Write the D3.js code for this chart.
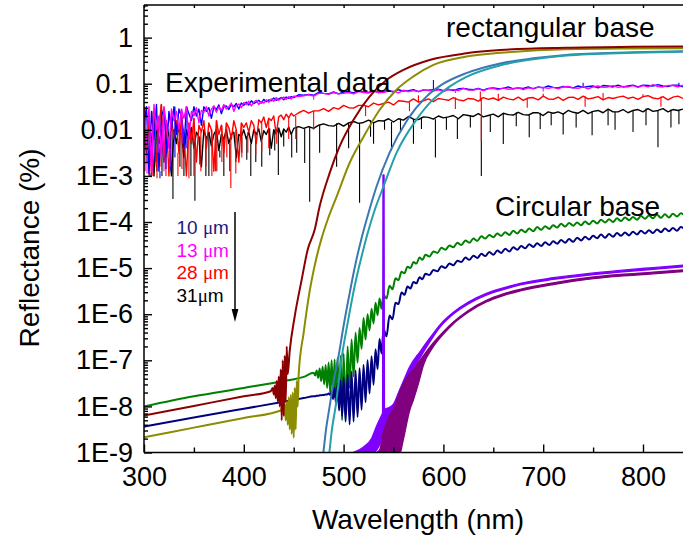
<!DOCTYPE html>
<html><head><meta charset="utf-8">
<script src="https://cdn.jsdelivr.net/npm/d3@7"></script>
<style>
html,body{margin:0;padding:0;background:#fff;}
svg{display:block;font-family:"Liberation Sans",Arial,Helvetica,sans-serif;}
</style></head><body>
<svg id="c" width="683" height="538"></svg>
<script>
// ---------------- DATA (reflectance values stored as log10 exponents) ----------------
const xTickValues = [300, 400, 500, 600, 700, 800];
const xTickLabels = ["300", "400", "500", "600", "700", "800"];
const yTickValues = [1e-9, 1e-8, 1e-7, 1e-6, 1e-5, 1e-4, 1e-3, 1e-2, 1e-1, 1];
const yTickLabels = ["1E-9", "1E-8", "1E-7", "1E-6", "1E-5", "1E-4", "1E-3", "0.01", "0.1", "1"];
const legendLabels = ["10 ", "13 ", "28 ", "31"];

// experimental wavelength grid (nm)
const expWl = [300,302.5,305,307.5,310,312.5,315,317.5,320,322.5,325,327.5,330,
332.5,335,337.5,340,342.5,345,347.5,350,352.5,355,357.5,360,
362.5,365,367.5,370,372.5,375,377.5,380,382.5,385,387.5,390,392.5,395,397.5,400,
402.5,405,407.5,410,412.5,415,417.5,420,422.5,425,427.5,430,432.5,435,437.5,440,442.5,445,447.5,450,
455,460,465,470,475,480,485,490,495,500,505,510,515,520,525,530,535,540,545,550,555,560,565,570,575,580,585,590,595,600,
605,610,615,620,625,630,635,640,645,650,655,660,665,670,675,680,685,690,695,700,705,710,715,720,725,730,735,740,745,750,
755,760,765,770,775,780,785,790,795,800,805,810,815,820,825,830,835,840];

const exp10umLog = [-1.9,-1.5,-2.95,-1.6,-2.2,-1.45,-2.9,-1.7,-1.55,-2.5,-1.6,-2.0,-1.5,
-2.1,-1.55,-1.7,-2.4,-1.5,-1.65,-1.8,-1.5,-1.7,-1.55,-1.9,-1.5,
-1.6,-1.52,-1.75,-1.5,-1.56,-1.46,-1.65,-1.5,-1.48,-1.56,-1.45,-1.5,-1.43,-1.55,-1.42,-1.47,
-1.4,-1.46,-1.37,-1.43,-1.4,-1.36,-1.42,-1.34,-1.39,-1.35,-1.37,-1.31,-1.36,-1.33,-1.3,-1.35,-1.29,-1.32,-1.28,-1.3,
-1.24,-1.25,-1.23,-1.25,-1.19,-1.21,-1.22,-1.18,-1.22,-1.18,-1.17,-1.2,-1.15,-1.18,-1.19,-1.15,-1.19,-1.16,-1.15,-1.18,-1.13,-1.16,-1.15,-1.13,-1.17,-1.14,-1.14,-1.13,-1.12,-1.15,
-1.12,-1.15,-1.11,-1.1,-1.12,-1.13,-1.1,-1.14,-1.1,-1.09,-1.11,-1.1,-1.07,-1.11,-1.09,-1.1,-1.07,-1.11,-1.07,-1.09,-1.05,-1.08,-1.09,-1.06,-1.07,-1.09,-1.05,-1.08,-1.06,-1.05,
-1.09,-1.04,-1.05,-1.07,-1.03,-1.07,-1.05,-1.03,-1.07,-1.03,-1.04,-1.05,-1.02,-1.05,-1.06,-1.03,-1.03,-1.07];

const exp13umLog = [-1.6,-2.3,-1.5,-2.9,-1.45,-2.0,-1.7,-2.6,-1.5,-1.9,-2.4,-1.55,-1.8,
-1.6,-2.0,-1.55,-1.75,-1.5,-2.2,-1.6,-1.7,-1.52,-1.85,-1.58,-1.62,
-1.5,-1.7,-1.55,-1.48,-1.62,-1.5,-1.58,-1.45,-1.55,-1.5,-1.42,-1.6,-1.47,-1.44,-1.52,-1.41,
-1.45,-1.38,-1.48,-1.4,-1.36,-1.45,-1.39,-1.42,-1.35,-1.4,-1.33,-1.38,-1.3,-1.36,-1.32,-1.29,-1.34,-1.28,-1.33,-1.27,
-1.28,-1.26,-1.24,-1.27,-1.21,-1.21,-1.23,-1.19,-1.22,-1.21,-1.19,-1.22,-1.17,-1.19,-1.2,-1.16,-1.19,-1.19,-1.16,-1.16,-1.2,-1.14,-1.17,-1.15,-1.17,-1.13,-1.15,-1.16,-1.13,-1.17,
-1.13,-1.13,-1.15,-1.1,-1.14,-1.14,-1.11,-1.15,-1.11,-1.1,-1.13,-1.09,-1.12,-1.11,-1.09,-1.13,-1.09,-1.1,-1.08,-1.08,-1.1,-1.08,-1.11,-1.07,-1.06,-1.09,-1.1,-1.07,-1.11,-1.07,
-1.05,-1.08,-1.07,-1.04,-1.08,-1.06,-1.07,-1.04,-1.08,-1.04,-1.07,-1.02,-1.06,-1.07,-1.04,-1.04,-1.07,-1.03];

const exp28umLog = [-1.5,-2.4,-1.7,-3.0,-1.6,-2.8,-1.9,-1.45,-2.6,-1.8,-3.0,-1.7,-2.2,
-1.8,-2.5,-1.7,-2.1,-3.0,-1.85,-2.3,-1.75,-2.7,-1.9,-2.05,-1.8,
-2.4,-1.85,-2.0,-2.9,-1.8,-2.1,-1.9,-2.5,-1.85,-1.95,-2.2,-1.8,-2.0,-2.7,-1.85,-1.95,
-1.85,-2.05,-1.8,-1.9,-2.3,-1.78,-1.85,-1.72,-1.95,-1.75,-1.8,-1.7,-2.1,-1.72,-1.68,-1.78,-1.66,-1.74,-1.64,-1.7,
-1.63,-1.58,-1.64,-1.59,-1.59,-1.54,-1.6,-1.52,-1.55,-1.47,-1.52,-1.53,-1.47,-1.47,-1.5,-1.42,-1.46,-1.43,-1.4,-1.46,-1.37,-1.38,-1.4,-1.33,-1.4,-1.37,-1.33,-1.39,-1.32,-1.34,
-1.36,-1.3,-1.35,-1.37,-1.32,-1.33,-1.38,-1.3,-1.34,-1.31,-1.36,-1.29,-1.33,-1.35,-1.29,-1.36,-1.31,-1.3,-1.35,-1.27,-1.33,-1.34,-1.29,-1.36,-1.3,-1.29,-1.34,-1.27,-1.33,-1.31,
-1.28,-1.35,-1.3,-1.32,-1.29,-1.27,-1.32,-1.29,-1.34,-1.28,-1.26,-1.31,-1.33,-1.28,-1.35,-1.29,-1.27,-1.32];

const exp31umLog = [-2.0,-2.5,-1.8,-2.2,-3.0,-1.9,-2.3,-2.0,-2.7,-1.85,-2.15,-3.0,-2.0,
-2.3,-1.9,-2.1,-2.6,-2.0,-2.2,-1.95,-2.4,-2.05,-2.15,-2.8,-2.0,
-2.2,-2.05,-2.35,-2.1,-2.0,-2.45,-2.1,-2.2,-2.0,-2.3,-2.1,-2.05,-2.6,-2.1,-2.15,-2.0,
-2.2,-2.05,-2.3,-2.0,-2.1,-1.98,-2.25,-2.02,-2.1,-1.97,-2.4,-2.0,-2.08,-1.96,-2.15,-1.98,-2.05,-1.94,-2.1,-1.97,
-1.93,-1.97,-1.93,-1.97,-1.9,-1.87,-1.91,-1.92,-1.86,-1.92,-1.85,-1.82,-1.86,-1.84,-1.79,-1.85,-1.8,-1.81,-1.76,-1.83,-1.76,-1.79,-1.71,-1.77,-1.78,-1.72,-1.73,-1.77,-1.7,-1.74,
-1.72,-1.69,-1.76,-1.67,-1.69,-1.71,-1.65,-1.72,-1.69,-1.66,-1.72,-1.64,-1.67,-1.68,-1.62,-1.67,-1.68,-1.63,-1.63,-1.69,-1.61,-1.64,-1.61,-1.66,-1.58,-1.62,-1.64,-1.58,-1.65,-1.6,
-1.58,-1.63,-1.55,-1.61,-1.61,-1.56,-1.63,-1.58,-1.56,-1.61,-1.54,-1.6,-1.58,-1.54,-1.61,-1.56,-1.58,-1.55];

// isolated spikes: wavelength and the exponent the spike reaches
const spike10umWl = [306, 311, 316, 322, 327, 331, 343, 590, 740, 836];
const spike10umEnd = [-3.0, -2.7, -3.05, -2.85, -2.9, -2.6, -2.4, -0.92, -0.98, -0.98];
const spike13umWl = [303, 308, 314, 320, 326, 338, 470, 612, 700];
const spike13umEnd = [-2.95, -2.7, -2.5, -2.9, -2.8, -2.3, -1.35, -1.2, -1.17];
const spike28umWl = [301, 305, 309, 313, 317, 322, 326, 334, 338, 345, 350, 357, 362, 368, 373, 378, 383, 387, 392, 398, 404, 412, 418, 425, 433, 445, 452, 470,
  522, 566, 575, 612, 637, 638, 655, 684, 700, 742, 760, 800, 818];
const spike28umEnd = [-2.9, -3.0, -3.0, -3.05, -2.8, -3.0, -3.0, -3.0, -2.85, -3.05, -3.0, -2.9, -2.8, -3.0, -2.9, -2.7, -2.6, -3.26, -2.95, -2.6, -2.5, -2.55, -2.45, -2.4, -2.3, -2.2, -2.2, -2.0,
  -1.7, -1.6, -1.25, -1.55, -1.17, -2.24, -1.22, -1.52, -1.22, -1.5, -1.2, -1.23, -1.5];
const spike31umWl = [303, 310, 313, 318, 322, 329, 336, 340, 347, 351, 356, 362, 365, 372, 376, 380, 386, 392, 398, 403, 407, 412, 418, 426, 431, 434.6, 440, 448, 453, 461, 466, 476, 493, 505, 516,
  527, 530, 541, 548, 557, 570, 578, 592, 603, 614, 627, 638, 647, 660, 673, 686, 697, 708, 720, 733, 749, 765, 772, 790, 803, 815, 828, 836];
const spike31umEnd = [-2.7, -3.0, -2.9, -3.0, -2.6, -3.5, -2.8, -3.0, -3.0, -3.54, -2.75, -3.0, -3.0, -2.9, -2.6, -3.0, -2.9, -2.7, -2.5, -2.65, -3.0, -2.7, -2.8, -2.55, -2.45, -2.98, -2.36, -2.6, -2.5, -2.72, -3.56, -2.5, -2.8, -2.4, -3.58,
  -2.15, -2.3, -2.0, -2.45, -2.05, -2.3, -1.98, -2.6, -2.0, -2.2, -1.95, -3.0, -2.05, -2.31, -1.92, -2.16, -1.98, -1.9, -2.1, -1.95, -2.12, -1.9, -2.0, -2.05, -1.9, -2.38, -1.95, -1.88];

// rectangular base simulations
const rectDarkRedWl = [300,350,400,427,429,430,431,432,433,434,435,436,437,438,439,440,441,442,443,444,446,451,458,464,471,476,486,496,510,526,543,560,587,623,657,723,790,850];
const rectDarkRedLog = [-8.2,-7.99,-7.78,-7.67,-7.6,-7.74,-7.55,-7.82,-7.45,-7.9,-7.35,-8.0,-7.2,-8.3,-7.0,-8.2,-6.9,-7.9,-6.7,-7.3,-6.8,-6.05,-5.25,-4.6,-4.17,-3.66,-2.94,-2.36,-1.78,-1.28,-0.92,-0.7,-0.48,-0.34,-0.27,-0.22,-0.2,-0.19];
const rectOliveWl = [300,350,400,437,439,440,441,442,443,444,445,446,447,448,449,450,451,452,453,454,455,460,466,472,478,484,493,506,520,536,553,570,590,623,657,723,790,850];
const rectOliveLog = [-8.67,-8.46,-8.25,-8.09,-8.0,-8.2,-7.95,-8.3,-7.9,-8.4,-7.8,-8.5,-7.75,-8.6,-7.7,-8.68,-7.6,-8.5,-7.45,-8.0,-7.3,-6.4,-5.5,-4.85,-4.35,-3.95,-3.45,-2.72,-2.15,-1.57,-1.13,-0.84,-0.59,-0.41,-0.33,-0.25,-0.235,-0.23];
const rectSteelWl = [477,479.7,482.4,486,490,495,500,506,512,518,525,533,546,564,583,600,623,657,690,723,790,850];
const rectSteelLog = [-9.35,-9.0,-8.5,-8.0,-7.45,-6.9,-6.25,-5.55,-4.9,-4.35,-3.8,-3.23,-2.5,-1.78,-1.28,-1.0,-0.77,-0.56,-0.45,-0.375,-0.32,-0.29];
const rectTealWl = [483,485.7,488,492,498,504,511,518,524,531,540,553,573,587,605,623,657,690,723,790,850];
const rectTealLog = [-9.35,-9.0,-8.55,-8.0,-6.95,-6.2,-5.4,-4.75,-4.25,-3.75,-3.23,-2.5,-1.78,-1.4,-1.08,-0.85,-0.6,-0.47,-0.39,-0.33,-0.3];

// circular base simulations (green / navy share a wavelength grid)
const circWl = [300,350,400,440,460,
470,471.5,473,474.5,476,477.5,479,480.5,482,483.5,485,486.5,488,489.5,491,492.5,494,495.5,497,498.5,500,
502,504,506,508,510,512,514,516,518,520,522,524,526,528,530,532,534,536,538,540,
543,546,549,552,555,558,561,564,567,570,573,576,579,582,
586,590,594,598,602,606,610,614,618,622,626,630,634,638,642,646,650,654,658,662,666,670,674,678,682,686,690,694,698,702,706,710,714,718,722,726,730,734,738,742,746,750,754,758,762,766,770,774,778,782,786,790,794,798,802,806,810,814,818,822,826,830,834,838,842];
const circGreenLog = [-8.0,-7.78,-7.6,-7.45,-7.36,
-7.27,-7.33,-7.22,-7.38,-7.18,-7.45,-7.14,-7.52,-7.1,-7.6,-7.05,-7.7,-7.0,-7.8,-6.98,-7.9,-6.95,-8.0,-6.9,-8.3,-6.85,
-8.2,-6.7,-7.6,-6.55,-7.35,-6.4,-7.05,-6.3,-6.75,-6.08,-6.55,-6.0,-6.35,-5.88,-6.2,-5.75,-6.02,-5.66,-5.88,-5.58,
-5.66,-5.38,-5.46,-5.22,-5.26,-5.08,-5.11,-4.97,-5.0,-4.87,-4.9,-4.77,-4.82,-4.71,
-4.75,-4.64,-4.67,-4.56,-4.6,-4.51,-4.55,-4.45,-4.5,-4.4,-4.45,-4.36,-4.41,-4.31,-4.36,-4.28,-4.33,-4.25,-4.3,-4.22,-4.28,-4.19,-4.25,-4.17,-4.22,-4.14,-4.2,-4.11,-4.17,-4.09,-4.15,-4.07,-4.12,-4.04,-4.1,-4.02,-4.08,-4.01,-4.07,-3.99,-4.05,-3.97,-4.03,-3.95,-4.01,-3.94,-4.0,-3.92,-3.98,-3.9,-3.96,-3.89,-3.95,-3.87,-3.93,-3.86,-3.92,-3.84,-3.91,-3.83,-3.9,-3.82,-3.88,-3.81,-3.87];
const circNavyLog = [-8.44,-8.24,-8.05,-7.9,-7.82,
-7.78,-7.78,-7.77,-7.77,-7.76,-7.76,-7.75,-7.75,-7.74,-7.74,-7.72,-7.75,-7.67,-7.84,-7.6,-7.96,-7.51,-8.09,-7.44,-8.22,-7.37,
-8.33,-7.3,-8.39,-7.25,-8.33,-7.22,-8.23,-7.17,-8.07,-7.1,-7.91,-7.0,-7.72,-6.91,-7.53,-6.76,-7.19,-6.54,-6.85,-6.32,
-6.48,-6.03,-6.11,-5.75,-5.78,-5.53,-5.58,-5.4,-5.44,-5.3,-5.33,-5.2,-5.24,-5.12,
-5.15,-5.04,-5.07,-4.96,-5.0,-4.9,-4.94,-4.84,-4.87,-4.77,-4.82,-4.73,-4.78,-4.69,-4.74,-4.65,-4.71,-4.62,-4.67,-4.58,-4.64,-4.55,-4.6,-4.52,-4.57,-4.48,-4.54,-4.46,-4.52,-4.44,-4.5,-4.42,-4.47,-4.39,-4.45,-4.37,-4.43,-4.34,-4.4,-4.32,-4.38,-4.3,-4.35,-4.27,-4.34,-4.26,-4.32,-4.24,-4.3,-4.23,-4.29,-4.21,-4.27,-4.19,-4.25,-4.18,-4.24,-4.16,-4.22,-4.14,-4.2,-4.13,-4.19,-4.11,-4.17];

// circular base, thick fringed curves given as upper / lower envelope
const circVioletWl = [498,510,520,528,533,538,541,546,550,556,560,566,577,587,597,610,625,643,660,677,710,744,777,810,850];
const circVioletHi = [-9.05,-9.0,-8.88,-8.7,-8.43,-8.2,-8.07,-8.02,-7.95,-7.65,-7.45,-7.15,-6.8,-6.5,-6.22,-5.96,-5.74,-5.55,-5.43,-5.33,-5.21,-5.12,-5.05,-4.99,-4.92];
const circVioletLo = [-9.1,-9.1,-9.1,-9.05,-8.95,-8.75,-8.6,-8.4,-8.2,-7.9,-7.7,-7.38,-6.93,-6.58,-6.27,-5.995,-5.775,-5.585,-5.465,-5.365,-5.245,-5.155,-5.085,-5.025,-4.955];
const circVioletSpikeWl = [539.2,539.6,540.4,540.8];
const circVioletSpikeLog = [-8.2,-2.98,-2.98,-8.2];
const circPurpleWl = [528,536,540,546,550,556,560,566,570,575,580,590,600,610,625,643,660,677,710,744,777,810,850];
const circPurpleHi = [-9.05,-8.95,-8.55,-8.2,-8.05,-7.7,-7.5,-7.3,-7.2,-7.05,-6.9,-6.62,-6.38,-6.17,-5.92,-5.7,-5.56,-5.46,-5.32,-5.21,-5.14,-5.09,-5.02];
const circPurpleLo = [-9.1,-9.1,-9.1,-9.1,-9.1,-9.05,-8.7,-8.1,-7.85,-7.5,-7.1,-6.7,-6.43,-6.205,-5.955,-5.735,-5.595,-5.495,-5.355,-5.245,-5.175,-5.125,-5.055];

// ---------------- DRAWING ----------------
(function () {
const P = v => Math.pow(10, v);
const svg = d3.select('#c');
const pLeft = 144, pBottom = 452.5, pTop = 5;
const x = d3.scaleLinear().domain([300, 850]).range([pLeft, pLeft + 550 * 0.998]);
const y = d3.scaleLog().domain([1e-9, 5.1]).range([pBottom, pTop]);

svg.append('defs').append('clipPath').attr('id', 'clip')
  .append('rect').attr('x', pLeft).attr('y', pTop).attr('width', 600).attr('height', pBottom - pTop);
const plot = svg.append('g').attr('clip-path', 'url(#clip)');

function pts(wl, lg) {
  const n = Math.min(wl.length, lg.length);
  return d3.range(n).map(i => [wl[i], P(lg[i])]);
}
function drawLine(wl, lg, color, width, curve) {
  plot.append('path').datum(pts(wl, lg))
    .attr('d', d3.line().x(d => x(d[0])).y(d => y(d[1])).curve(curve || d3.curveMonotoneX))
    .attr('fill', 'none').attr('stroke', color).attr('stroke-width', width)
    .attr('stroke-linejoin', 'round');
}
function drawSpikes(wl, lg, sw, se, color) {
  sw.forEach((s, i) => {
    const j = d3.minIndex(wl, w => Math.abs(w - s));
    plot.append('line')
      .attr('x1', x(s)).attr('x2', x(s))
      .attr('y1', y(P(lg[j]))).attr('y2', y(P(se[i])))
      .attr('stroke', color).attr('stroke-width', 1.1);
  });
}
function drawBand(wl, hi, lo, color) {
  const d = wl.map((w, i) => [w, P(hi[i]), P(lo[i])]);
  plot.append('path').datum(d)
    .attr('d', d3.area().x(v => x(v[0])).y0(v => y(v[2])).y1(v => y(v[1])).curve(d3.curveMonotoneX))
    .attr('fill', color).attr('stroke', color).attr('stroke-width', 1.4).attr('stroke-linejoin', 'round');
}

// experimental
drawLine(expWl, exp31umLog, '#000000', 1.4, d3.curveLinear);
drawSpikes(expWl, exp31umLog, spike31umWl, spike31umEnd, '#000000');
drawLine(expWl, exp28umLog, '#ff0000', 1.4, d3.curveLinear);
drawSpikes(expWl, exp28umLog, spike28umWl, spike28umEnd, '#ff0000');
drawLine(expWl, exp10umLog, '#0000ff', 1.4, d3.curveLinear);
drawSpikes(expWl, exp10umLog, spike10umWl, spike10umEnd, '#0000ff');
drawLine(expWl, exp13umLog, '#ff00ff', 1.4, d3.curveLinear);
drawSpikes(expWl, exp13umLog, spike13umWl, spike13umEnd, '#ff00ff');

// circular base
drawLine(circWl, circGreenLog, '#008000', 2);
drawLine(circWl, circNavyLog, '#000080', 2);
drawBand(circVioletWl, circVioletHi, circVioletLo, '#8000ff');
drawLine(circVioletSpikeWl, circVioletSpikeLog, '#8000ff', 1.6, d3.curveLinear);
drawBand(circPurpleWl, circPurpleHi, circPurpleLo, '#800080');

// rectangular base
drawLine(rectOliveWl, rectOliveLog, '#8c8c00', 2);
drawLine(rectDarkRedWl, rectDarkRedLog, '#8b0000', 2);
drawLine(rectSteelWl, rectSteelLog, '#3a78b4', 2);
drawLine(rectTealWl, rectTealLog, '#23a0a8', 2);

// axes
const FONT = '"Liberation Sans", Arial, Helvetica, sans-serif';
function styleAxis(g, size) {
  g.select('.domain').remove();
  g.attr('font-family', FONT).attr('font-size', size);
  g.selectAll('line').attr('stroke', '#000').attr('stroke-width', 1.4);
  g.selectAll('text').attr('fill', '#000');
}
const gy = svg.append('g').attr('transform', `translate(${pLeft},0)`)
  .call(d3.axisLeft(y).tickValues(yTickValues).tickFormat((d, i) => yTickLabels[i]).tickSize(-8).tickPadding(11));
styleAxis(gy, 27);
const yMinor = y.ticks().filter(v => !yTickValues.some(t => Math.abs(Math.log10(t) - Math.log10(v)) < 1e-6));
const gym = svg.append('g').attr('transform', `translate(${pLeft},0)`)
  .call(d3.axisLeft(y).tickValues(yMinor).tickFormat('').tickSize(-4));
styleAxis(gym, 10);

const gx = svg.append('g').attr('transform', `translate(0,${pBottom})`)
  .call(d3.axisBottom(x).tickValues(xTickValues).tickFormat((d, i) => xTickLabels[i]).tickSize(-8).tickPadding(14));
styleAxis(gx, 27);
const xMinor = [350, 450, 550, 650, 750, 850];
const gxm = svg.append('g').attr('transform', `translate(0,${pBottom})`)
  .call(d3.axisBottom(x).tickValues(xMinor).tickFormat('').tickSize(-5));
styleAxis(gxm, 10);
const gt = svg.append('g').attr('transform', `translate(0,${pTop})`)
  .call(d3.axisTop(x).tickValues(xTickValues.concat(xMinor)).tickFormat('').tickSize(-3));
styleAxis(gt, 10);

// frame
svg.append('line').attr('x1', pLeft).attr('x2', pLeft).attr('y1', pTop).attr('y2', pBottom).attr('stroke', '#000').attr('stroke-width', 1.5);
svg.append('line').attr('x1', pLeft).attr('x2', 700).attr('y1', pBottom).attr('y2', pBottom).attr('stroke', '#000').attr('stroke-width', 1.5);
svg.append('line').attr('x1', pLeft).attr('x2', 700).attr('y1', pTop).attr('y2', pTop).attr('stroke', '#000').attr('stroke-width', 1.5);

// titles
svg.append('text').attr('x', 418).attr('y', 529).attr('text-anchor', 'middle')
  .attr('font-family', FONT).attr('font-size', 28).text('Wavelength (nm)');
svg.append('text').attr('transform', 'translate(39,248) rotate(-90)').attr('text-anchor', 'middle')
  .attr('font-family', FONT).attr('font-size', 28).text('Reflectance (%)');

// annotations
svg.append('text').attr('x', 446).attr('y', 37).attr('font-family', FONT).attr('font-size', 28).text('rectangular base');
svg.append('text').attr('x', 165).attr('y', 92).attr('font-family', FONT).attr('font-size', 28).text('Experimental data');
svg.append('text').attr('x', 495).attr('y', 216).attr('font-family', FONT).attr('font-size', 28).text('Circular base');

// legend
const legendColors = ['#1a1a80', '#ff00ff', '#ff0000', '#000000'];
const legendY = [234, 257, 279, 302];
legendLabels.forEach((lab, i) => {
  const t = svg.append('text').attr('x', 176.5).attr('y', legendY[i])
    .attr('font-family', FONT).attr('font-size', 19).attr('fill', legendColors[i]);
  t.append('tspan').text(lab);
  t.append('tspan').attr('font-family', '"Liberation Serif", "DejaVu Serif", serif').text('\u03bc');
  t.append('tspan').text('m');
});
svg.append('line').attr('x1', 235).attr('x2', 235).attr('y1', 212).attr('y2', 312).attr('stroke', '#000').attr('stroke-width', 1.5);
svg.append('path').attr('d', 'M231.6,309 L238.4,309 L235,322 Z').attr('fill', '#000');
})();
</script>
</body></html>
